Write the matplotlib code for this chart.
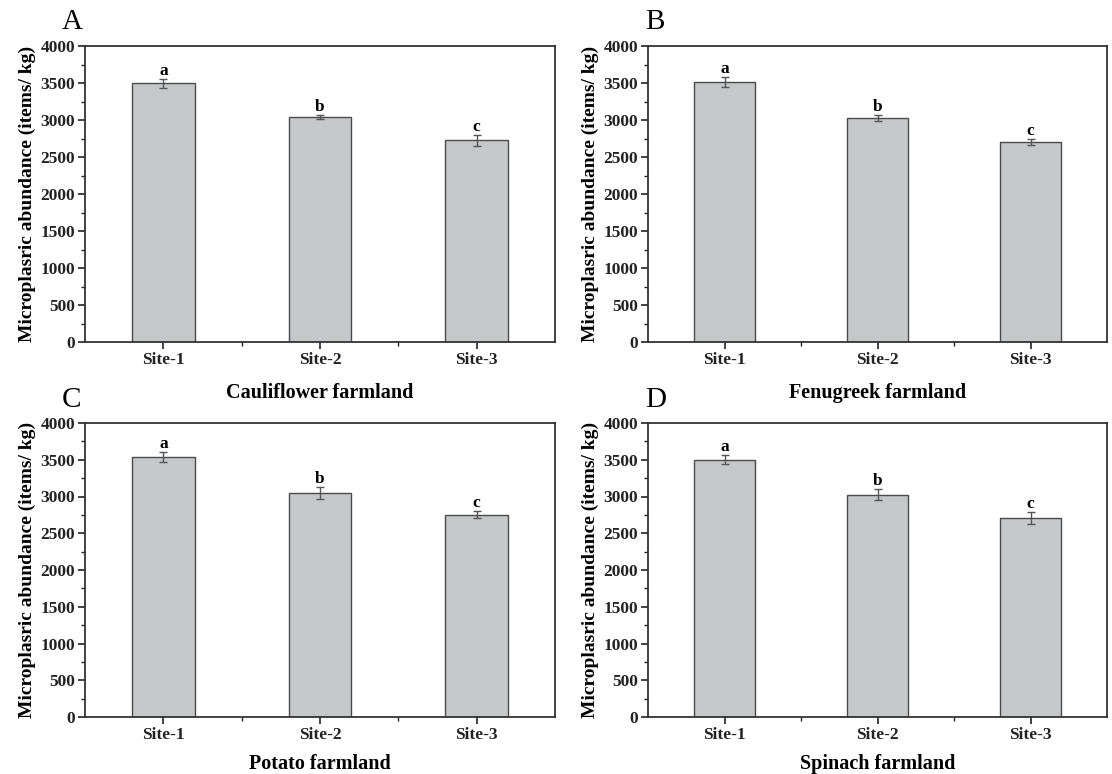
import matplotlib
matplotlib.use("Agg")
import matplotlib.pyplot as plt
from matplotlib.ticker import MultipleLocator, FixedLocator

plt.rcParams['font.family'] = ['Liberation Serif', 'DejaVu Serif']

sites = ["Site-1", "Site-2", "Site-3"]
letters = ["a", "b", "c"]
panel_labels = ["A", "B", "C", "D"]
farm_titles = ["Cauliflower farmland", "Fenugreek farmland", "Potato farmland", "Spinach farmland"]

cauliflower = [3495, 3035, 2728]
cauliflower_err = [65, 28, 75]
fenugreek = [3510, 3028, 2703]
fenugreek_err = [65, 40, 45]
potato = [3540, 3050, 2755]
potato_err = [70, 80, 50]
spinach = [3500, 3027, 2708]
spinach_err = [60, 80, 85]

values = [cauliflower, fenugreek, potato, spinach]
errors = [cauliflower_err, fenugreek_err, potato_err, spinach_err]

W, H = 1112, 774
fig = plt.figure(figsize=(W / 100, H / 100), dpi=100)

# axes boxes in pixels: left, right, top, bottom
boxes = [(85, 555, 46, 342), (648, 1107, 46, 342),
         (85, 555, 423, 717), (648, 1107, 423, 717)]
letter_pos = [(62, 22), (645, 22), (62, 400), (645, 400)]
xlabel_pads = [11, 11, 8, 8]

for i in range(4):
    l, r, t, b = boxes[i]
    ax = fig.add_axes([l / W, 1 - b / H, (r - l) / W, (b - t) / H])
    x = [1, 2, 3]
    ax.bar(x, values[i], width=0.4, color="#c6c7c9", edgecolor="#4a4a4a", linewidth=1.0, zorder=2)
    ax.errorbar(x, values[i], yerr=errors[i], fmt="none", ecolor="#555555",
                elinewidth=1.0, capsize=3, capthick=1.0, zorder=3)
    for xi, v, e, lt in zip(x, values[i], errors[i], letters):
        ax.annotate(lt, (xi, v + e), xytext=(0, 0), textcoords="offset points",
                    ha="center", va="bottom", fontsize=12.5, fontweight="bold")
    ax.set_xlim(0.5, 3.5)
    ax.set_ylim(0, 4000)
    ax.yaxis.set_major_locator(MultipleLocator(500))
    ax.yaxis.set_minor_locator(MultipleLocator(250))
    ax.xaxis.set_major_locator(FixedLocator(x))
    ax.xaxis.set_minor_locator(FixedLocator([1.5, 2.5]))
    ax.set_xticklabels(sites)
    ax.tick_params(axis="both", which="major", direction="out", length=5, width=1.2,
                   labelsize=12.5, colors="#222222")
    ax.tick_params(axis="both", which="minor", direction="out", length=3, width=1.0, colors="#222222")
    for lab in ax.get_xticklabels() + ax.get_yticklabels():
        lab.set_fontweight("bold")
    ax.tick_params(axis="x", pad=2)
    ax.tick_params(axis="y", pad=2)
    for sp in ax.spines.values():
        sp.set_linewidth(1.3)
        sp.set_color("#333333")
    ax.set_ylabel("Microplasric abundance (items/ kg)", fontsize=14, fontweight="bold", labelpad=3)
    ax.set_xlabel(farm_titles[i], fontsize=14.5, fontweight="bold", labelpad=xlabel_pads[i])
    px, py = letter_pos[i]
    fig.text(px / W, 1 - py / H, panel_labels[i], fontsize=21, ha="left", va="center")

fig.savefig("out.png", dpi=100)
